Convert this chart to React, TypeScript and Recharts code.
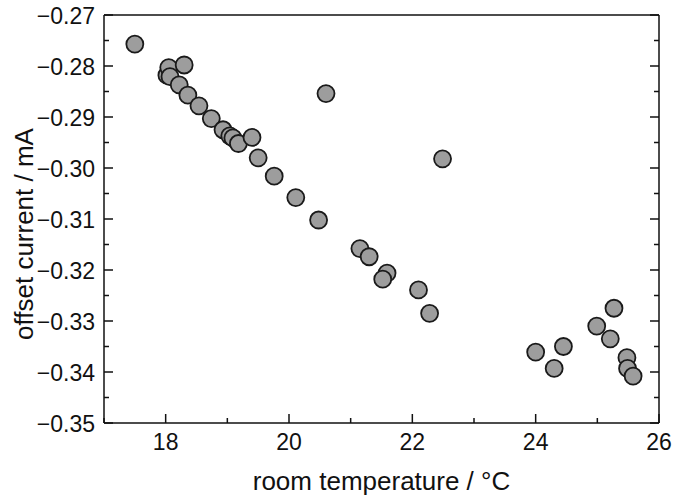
import { ScatterChart, Scatter, XAxis, YAxis, Label } from 'recharts';

// room temperature (°C) and offset current (mA)
const temperature = [
  17.5, 18.02, 18.05, 18.07, 18.3, 18.22, 18.36, 18.54, 18.74, 18.93, 19.04, 19.09,
  19.18, 19.4, 19.5, 19.76, 20.11, 20.48, 20.6, 21.15, 21.3, 21.59, 21.52, 22.1,
  22.28, 22.49, 24.0, 24.3, 24.45, 24.99, 25.21, 25.27, 25.48, 25.49, 25.58,
];
const offsetCurrent = [
  -0.2757, -0.2818, -0.2803, -0.2821, -0.2798, -0.2837, -0.2857, -0.2878, -0.2903,
  -0.2925, -0.2937, -0.2941, -0.2952, -0.294, -0.298, -0.3016, -0.3058, -0.3102,
  -0.2854, -0.3158, -0.3174, -0.3206, -0.3218, -0.3239, -0.3285, -0.2982, -0.3361,
  -0.3393, -0.335, -0.331, -0.3335, -0.3275, -0.3372, -0.3393, -0.3408,
];

const xTicks = [17, 18, 19, 20, 21, 22, 23, 24, 25, 26];
const xLabelTicks = [18, 20, 22, 24, 26];
const yTicks = [
  -0.35, -0.345, -0.34, -0.335, -0.33, -0.325, -0.32, -0.315, -0.31, -0.305, -0.3,
  -0.295, -0.29, -0.285, -0.28, -0.275, -0.27,
];
const yLabelTicks = [-0.35, -0.34, -0.33, -0.32, -0.31, -0.3, -0.29, -0.28, -0.27];

const data = temperature.map((t, i) => ({ t, current: offsetCurrent[i] }));

const FONT = "'Liberation Sans Narrow', 'Liberation Sans', Arial, sans-serif";
const INK = '#111';

const isMajor = (v: number, list: number[]) => list.some((m) => Math.abs(m - v) < 1e-9);
const fmtY = (v: number) => v.toFixed(2).replace('-', '\u2212');

function BottomTick({ x, y, payload }: any) {
  const major = isMajor(payload.value, xLabelTicks);
  return (
    <g>
      <line x1={x} y1={y} x2={x} y2={y - (major ? 9 : 5)} stroke={INK} strokeWidth={1.5} />
      {major && (
        <text x={x} y={y + 27} textAnchor="middle" fontSize={23} fontFamily={FONT} fill={INK}>
          {payload.value}
        </text>
      )}
    </g>
  );
}

function TopTick({ x, y, payload }: any) {
  const major = isMajor(payload.value, xLabelTicks);
  return <line x1={x} y1={y} x2={x} y2={y + (major ? 9 : 5)} stroke={INK} strokeWidth={1.5} />;
}

function LeftTick({ x, y, payload }: any) {
  const major = isMajor(payload.value, yLabelTicks);
  return (
    <g>
      <line x1={x} y1={y} x2={x + (major ? 9 : 5)} y2={y} stroke={INK} strokeWidth={1.5} />
      {major && (
        <text x={x - 9} y={y + 9} textAnchor="end" fontSize={23} fontFamily={FONT} fill={INK}>
          {fmtY(payload.value)}
        </text>
      )}
    </g>
  );
}

function RightTick({ x, y, payload }: any) {
  const major = isMajor(payload.value, yLabelTicks);
  return <line x1={x} y1={y} x2={x - (major ? 9 : 5)} y2={y} stroke={INK} strokeWidth={1.5} />;
}

function YTitle({ viewBox }: any) {
  const cx = 24;
  const cy = viewBox.y + viewBox.height / 2 + 15;
  return (
    <text
      x={cx}
      y={cy}
      transform={`rotate(-90 ${cx} ${cy})`}
      textAnchor="middle"
      dominantBaseline="central"
      fontSize={26}
      fontFamily={FONT}
      fill={INK}
    >
      offset current / mA
    </text>
  );
}

function Dot({ cx, cy }: any) {
  return <circle cx={cx} cy={cy} r={8.5} fill="#9d9d9d" stroke="#1a1a1a" strokeWidth={1.8} />;
}

export default function App() {
  const axisLine = { stroke: INK, strokeWidth: 1.5 };
  return (
    <div style={{ position: 'absolute', left: 0, top: 0, background: '#fff', fontFamily: FONT }}>
      <ScatterChart width={685} height={497} margin={{ top: 14, right: 25, bottom: 0, left: 0 }}>
        <XAxis
          xAxisId="b"
          dataKey="t"
          type="number"
          orientation="bottom"
          domain={[17, 26]}
          ticks={xTicks}
          interval={0}
          allowDataOverflow
          height={74}
          tickSize={0}
          tickMargin={0}
          tickLine={false}
          axisLine={axisLine}
          tick={<BottomTick />}
        >
          <Label
            value="room temperature / °C"
            position="insideBottom"
            offset={7}
            fontSize={26}
            fontFamily={FONT}
            fill={INK}
          />
        </XAxis>
        <XAxis
          xAxisId="t"
          type="number"
          orientation="top"
          domain={[17, 26]}
          ticks={xTicks}
          interval={0}
          allowDataOverflow
          height={1}
          tickSize={0}
          tickMargin={0}
          tickLine={false}
          axisLine={axisLine}
          tick={<TopTick />}
        />
        <YAxis
          yAxisId="l"
          dataKey="current"
          type="number"
          orientation="left"
          domain={[-0.35, -0.27]}
          ticks={yTicks}
          interval={0}
          allowDataOverflow
          width={104}
          tickSize={0}
          tickMargin={0}
          tickLine={false}
          axisLine={axisLine}
          tick={<LeftTick />}
        >
          <Label content={<YTitle />} />
        </YAxis>
        <YAxis
          yAxisId="r"
          type="number"
          orientation="right"
          domain={[-0.35, -0.27]}
          ticks={yTicks}
          interval={0}
          allowDataOverflow
          width={1}
          tickSize={0}
          tickMargin={0}
          tickLine={false}
          axisLine={axisLine}
          tick={<RightTick />}
        />
        <Scatter
          data={data}
          xAxisId="b"
          yAxisId="l"
          shape={<Dot />}
          isAnimationActive={false}
        />
      </ScatterChart>
    </div>
  );
}
